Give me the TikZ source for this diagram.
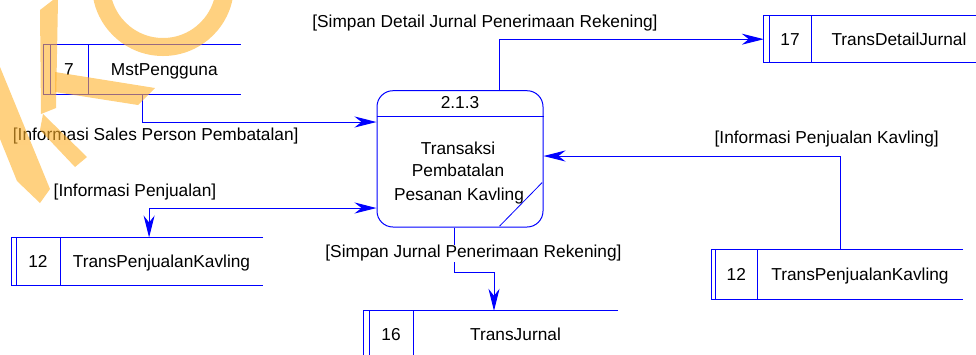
\documentclass[tikz,border=0pt]{standalone}
\usepackage{fontspec}
\setmainfont{Liberation Sans}
\usetikzlibrary{arrows.meta,fit}

\definecolor{flowblue}{RGB}{0,0,255}
\definecolor{wmorange}{RGB}{255,178,43}

\tikzset{
  line/.style={draw=flowblue, line width=1pt},
  flow/.style={line, -{Stealth[length=22pt,width=11pt,inset=7pt]}},
  flowboth/.style={line, {Stealth[length=22pt,width=11pt,inset=7pt]}-{Stealth[length=22pt,width=11pt,inset=7pt]}},
  txt/.style={inner sep=0pt, font=\fontsize{17.3}{23}\selectfont, text=black},
  lbl/.style={txt, fill=white},
  wm/.style={fill=wmorange, fill opacity=0.6, draw=none},
  wmring/.style={draw=wmorange, draw opacity=0.6, line width=18pt},
}

% data store: name, outer x, inner x, divider x, right x, top y, bottom y, id, label
\newcommand{\dstore}[9]{%
  \node[fit={(#2,#6) (#5,#7)}, inner sep=0pt] (#1) {};
  \draw[line] (#1.north east) -- (#1.north west) -- (#1.south west) -- (#1.south east);
  \draw[line] (#3,#6) -- (#3,#7);
  \draw[line] (#4,#6) -- (#4,#7);
  \node[txt, anchor=base] (#1-id) at ({(#3+#4)/2},{(#6+#7)/2+6.2}) {#8};
  \node[txt, anchor=base] (#1-name) at ({(#4+#5)/2},{(#6+#7)/2+6.2}) {#9};
}

\begin{document}
\begin{tikzpicture}[x=1pt,y=-1pt]
\useasboundingbox (0,0) rectangle (976,354);

% data stores
\dstore{s7}{43.7}{50}{88}{240.7}{45}{94.3}{7}{MstPengguna}
\dstore{s12a}{11.7}{16}{60}{263}{237.7}{285}{12}{TransPenjualanKavling}
\dstore{s16}{364}{369}{413}{618}{311}{358.4}{16}{TransJurnal}
\dstore{s17}{764}{769}{811}{987}{15.7}{62.7}{17}{TransDetailJurnal}
\dstore{s12b}{711.7}{715.7}{757}{963}{250}{299}{12}{TransPenjualanKavling}

% process 2.1.3
\node[line, rounded corners=16pt, minimum width=166pt, minimum height=136.3pt, inner sep=0pt] (p) at (460,158.85) {};
\draw[line] ([yshift=-26pt]p.north west) -- ([yshift=-26pt]p.north east);
\draw[draw=flowblue, line width=0.8pt] ([xshift=-44pt,yshift=1.3pt]p.south east) -- ([xshift=-1.3pt,yshift=45pt]p.south east);
\node[txt] (p-id) at (460,103) {2.1.3};
\node[txt, anchor=base] (p-l1) at (458,154) {Transaksi};
\node[txt, anchor=base] (p-l2) at (458,176.7) {Pembatalan};
\node[txt, anchor=base] (p-l3) at (459,200) {Pesanan Kavling};

% data flows
\draw[flow] ([xshift=99.3pt]s7.south west) |- ([yshift=36.85pt]p.west);
\draw[flowboth] ([yshift=-49.15pt]p.west) -| ([xshift=137.6pt]s12a.north west);
\draw[flow] ([xshift=39.5pt]p.north) |- (s17.west);
\draw[flow] ([xshift=-6pt]p.south) -- ++(0,45) -| ([xshift=3pt]s16.north);
\draw[flow] ([xshift=3.6pt]s12b.north) |- ([yshift=2.85pt]p.east);

% flow labels
\node[lbl] (f1) at (485,23) {[Simpan Detail Jurnal Penerimaan Rekening]};
\node[lbl] (f2) at (155.7,136.5) {[Informasi Sales Person Pembatalan]};
\node[lbl] (f3) at (135,192) {[Informasi Penjualan]};
\node[lbl] (f4) at (473.5,253.5) {[Simpan Jurnal Penerimaan Rekening]};
\node[lbl] (f5) at (826.7,139.5) {[Informasi Penjualan Kavling]};

% watermark strokes
\fill[wm] (53,0) -- (58,0) -- (56,108) -- (41,114) -- (40,10) -- cycle;
\fill[wm] (55,72) -- (155,88) -- (138,105) -- (55,92) -- cycle;
\fill[wm] (43,114) -- (87,157) -- (75,167) -- (40,130) -- cycle;
\fill[wm] (0,67) -- (50,189) -- (40,203) -- (17,181) -- (0,139) -- cycle;
\draw[wmring] (163,-15) circle[radius=62];
\end{tikzpicture}
\end{document}
